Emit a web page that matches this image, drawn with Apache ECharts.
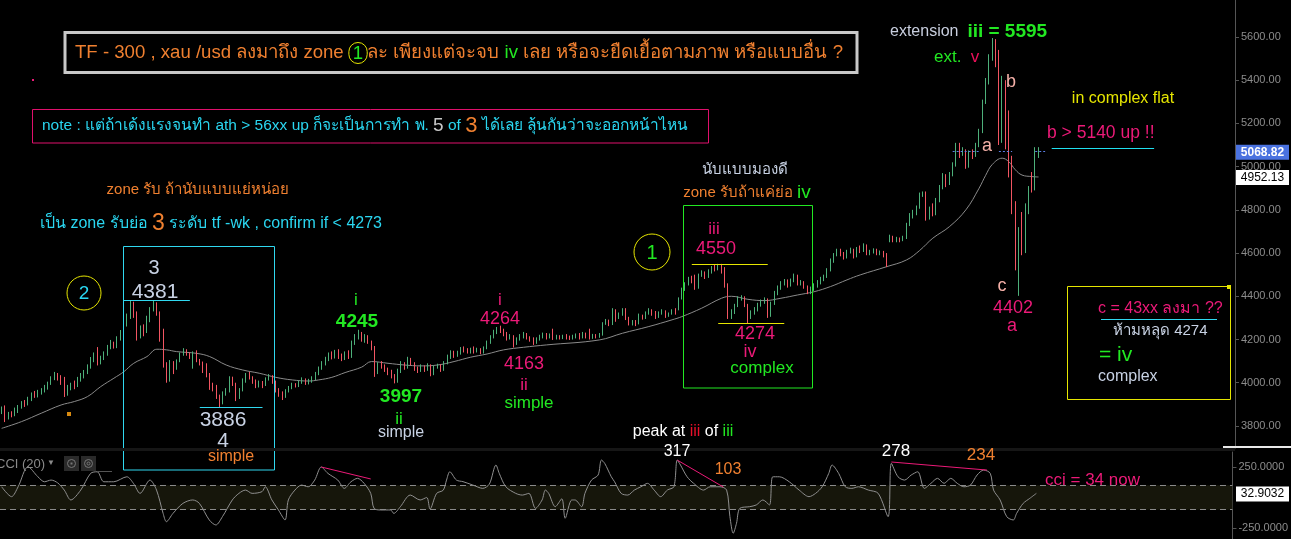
<!DOCTYPE html>
<html><head><meta charset="utf-8">
<script src="https://cdn.jsdelivr.net/npm/echarts@6/dist/echarts.min.js"></script>
<style>html,body{margin:0;padding:0;background:#000;overflow:hidden}#c{width:1291px;height:539px}</style>
</head><body><div id="c"></div>
<script>
// ---------- DATA ----------
// candles: [open, close, low, high] per 300-minute bar
const candles = [
[3870,3880,3855,3890],[3880,3830,3818,3895],[3835,3855,3830,3865],[3855,3850,3840,3868],[3850,3870,3845,3885],
[3870,3890,3860,3897],[3890,3905,3880,3915],[3905,3900,3888,3920],[3900,3925,3895,3935],[3925,3945,3915,3955],
[3945,3940,3930,3962],[3940,3955,3932,3967],[3955,3965,3945,3975],[3965,3975,3955,3990],[3975,3995,3968,4005],
[3995,4020,3990,4030],[4020,4035,4012,4050],[4035,4025,4010,4045],[4025,4000,3990,4035],[4000,3945,3934,4027],
[3945,3975,3940,3990],[3975,3990,3965,4000],[3990,3985,3970,4010],[3985,4015,3980,4027],[4015,4030,4005,4045],
[4030,4045,4020,4059],[4045,4075,4040,4085],[4075,4100,4065,4119],[4100,4125,4095,4140],[4125,4090,4080,4165],
[4090,4115,4085,4125],[4115,4130,4105,4145],[4130,4160,4125,4175],[4160,4180,4155,4198],[4180,4165,4158,4190],
[4165,4200,4160,4215],[4200,4235,4195,4244],[4235,4270,4228,4290],[4270,4300,4260,4320],[4300,4365,4295,4381],
[4365,4320,4300,4375],[4320,4210,4195,4330],[4210,4250,4205,4265],[4250,4235,4215,4270],[4235,4290,4230,4310],
[4290,4340,4280,4350],[4340,4360,4330,4381],[4360,4320,4310,4372],[4320,4240,4190,4330],[4240,4080,4070,4250],
[4080,4010,4000,4095],[4010,4090,4005,4105],[4090,4070,4040,4100],[4070,4100,4060,4108],[4100,4130,4095,4140],
[4130,4148,4125,4160],[4148,4135,4125,4155],[4135,4120,4110,4140],[4120,4135,4065,4145],[4135,4100,4095,4150],
[4100,4090,4080,4110],[4090,4080,4045,4098],[4080,4040,4025,4090],[4040,3985,3967,4045],[3985,3975,3960,4000],
[3975,3940,3925,3990],[3940,3905,3886,3945],[3905,3950,3900,3960],[3950,3965,3940,3975],[3965,4020,3955,4030],
[4020,3995,3985,4028],[3995,3930,3915,4000],[3930,3965,3925,3975],[3965,4010,3960,4020],[4010,4035,4000,4045],
[4035,4025,4015,4050],[4025,4005,3995,4030],[4005,3985,3975,4015],[3985,4000,3978,4010],[4000,3990,3975,4008],
[3990,4015,3985,4025],[4015,4030,4010,4040],[4030,4005,3995,4035],[4005,3965,3955,4010],[3965,3950,3935,3975],
[3950,3935,3920,3960],[3935,3960,3930,3970],[3960,3975,3955,3985],[3975,3990,3970,4000],[3990,3985,3978,3998],
[3985,4000,3980,4010],[4000,4015,3995,4025],[4015,4000,3990,4020],[4000,4010,3992,4018],[4010,4020,4000,4030],
[4020,4040,4012,4050],[4040,4065,4035,4075],[4065,4090,4060,4100],[4090,4110,4080,4120],[4110,4130,4100,4140],
[4130,4118,4108,4145],[4118,4140,4112,4152],[4140,4125,4110,4155],[4125,4110,4100,4135],[4110,4135,4105,4145],
[4135,4120,4110,4150],[4120,4180,4115,4195],[4180,4210,4175,4225],[4210,4225,4200,4245],[4225,4200,4190,4235],
[4200,4215,4185,4225],[4215,4190,4180,4220],[4190,4160,4150,4195],[4160,4045,4027,4170],[4045,4085,4040,4095],
[4085,4075,4065,4100],[4075,4060,4050,4085],[4060,4050,4035,4070],[4050,4030,4020,4060],[4030,4005,3997,4040],
[4005,4050,4000,4065],[4050,4090,4045,4100],[4090,4070,4060,4095],[4070,4110,4065,4120],[4110,4090,4080,4115],
[4090,4065,4055,4095],[4065,4055,4045,4075],[4055,4075,4050,4085],[4075,4060,4050,4080],[4060,4080,4055,4090],
[4080,4040,4030,4085],[4040,4070,4035,4080],[4070,4080,4065,4088],[4080,4060,4050,4085],[4060,4090,4055,4100],
[4090,4120,4085,4130],[4120,4140,4110,4150],[4140,4125,4115,4148],[4125,4140,4120,4148],[4140,4155,4130,4165],
[4155,4150,4140,4168],[4150,4140,4135,4160],[4140,4155,4135,4162],[4155,4145,4135,4168],[4145,4155,4140,4162],
[4155,4140,4132,4160],[4140,4160,4135,4168],[4160,4185,4155,4195],[4185,4210,4180,4220],[4210,4235,4205,4245],
[4235,4250,4225,4258],[4250,4240,4230,4264],[4240,4225,4215,4250],[4225,4205,4195,4235],[4205,4215,4200,4225],
[4215,4180,4163,4220],[4180,4200,4175,4210],[4200,4215,4195,4225],[4215,4225,4205,4235],[4225,4210,4200,4230],
[4210,4200,4190,4215],[4200,4185,4175,4210],[4185,4200,4180,4210],[4200,4215,4195,4222],[4215,4225,4205,4232],
[4225,4210,4200,4230],[4210,4220,4205,4228],[4220,4205,4198,4250],[4205,4215,4200,4222],[4215,4208,4200,4220],
[4208,4215,4202,4222],[4215,4210,4200,4225],[4210,4205,4198,4218],[4205,4215,4200,4222],[4215,4220,4205,4228],
[4220,4210,4200,4230],[4210,4225,4205,4235],[4225,4215,4205,4232],[4215,4210,4200,4250],[4210,4220,4203,4226],
[4220,4215,4205,4225],[4215,4222,4208,4230],[4222,4275,4218,4280],[4275,4285,4268,4295],[4285,4270,4262,4292],
[4272,4335,4267,4345],[4335,4300,4282,4340],[4300,4320,4295,4325],[4320,4335,4310,4345],[4335,4300,4290,4345],
[4300,4275,4265,4305],[4275,4285,4265,4290],[4285,4275,4262,4290],[4275,4310,4270,4320],[4310,4300,4292,4315],
[4300,4320,4295,4330],[4320,4335,4315,4345],[4335,4325,4310,4340],[4325,4305,4295,4332],[4305,4320,4300,4330],
[4320,4330,4315,4340],[4330,4310,4300,4335],[4310,4320,4305,4325],[4320,4335,4315,4340],[4335,4325,4315,4345],
[4340,4390,4335,4395],[4390,4430,4385,4440],[4430,4455,4425,4465],[4455,4480,4450,4490],[4480,4470,4460,4495],
[4470,4440,4430,4500],[4440,4495,4435,4505],[4495,4510,4490,4520],[4510,4490,4480,4515],[4490,4515,4485,4525],
[4515,4530,4505,4540],[4530,4525,4515,4545],[4525,4540,4520,4550],[4540,4520,4505,4550],[4520,4450,4440,4535],
[4450,4300,4295,4460],[4300,4325,4295,4340],[4325,4355,4318,4365],[4355,4390,4350,4400],[4390,4395,4380,4405],
[4395,4360,4350,4400],[4360,4300,4274,4365],[4300,4325,4295,4335],[4325,4340,4315,4350],[4340,4360,4330,4370],
[4360,4375,4352,4385],[4375,4385,4365,4395],[4385,4310,4300,4390],[4310,4365,4305,4375],[4365,4415,4360,4425],
[4415,4440,4405,4450],[4440,4460,4430,4470],[4460,4470,4450,4480],[4470,4450,4440,4478],[4450,4470,4445,4482],
[4470,4495,4465,4505],[4495,4460,4450,4500],[4460,4465,4450,4475],[4465,4445,4435,4470],[4445,4420,4410,4450],
[4420,4435,4410,4445],[4435,4450,4425,4460],[4450,4465,4440,4475],[4465,4480,4455,4490],[4480,4490,4470,4500],
[4490,4520,4485,4530],[4520,4560,4515,4575],[4560,4590,4555,4600],[4590,4610,4585,4620],[4610,4595,4585,4620],
[4595,4580,4570,4605],[4580,4605,4575,4615],[4605,4615,4598,4625],[4615,4585,4575,4620],[4585,4620,4580,4628],
[4620,4610,4600,4635],[4610,4635,4605,4645],[4635,4600,4590,4640],[4600,4605,4590,4615],[4605,4615,4598,4622],
[4615,4600,4590,4620],[4600,4605,4590,4612],[4605,4590,4580,4610],[4590,4545,4535,4600],[4660,4670,4650,4685],
[4670,4660,4650,4680],[4660,4665,4650,4675],[4665,4660,4650,4672],[4660,4670,4655,4680],[4670,4730,4665,4740],
[4730,4770,4725,4785],[4770,4790,4760,4800],[4790,4810,4775,4820],[4810,4870,4805,4880],[4870,4875,4860,4885],
[4875,4760,4750,4885],[4760,4800,4755,4815],[4800,4780,4770,4830],[4780,4840,4775,4855],[4840,4900,4835,4915],
[4900,4950,4895,4970],[4950,4920,4905,4965],[4920,4960,4915,4975],[4960,5005,4955,5020],[5005,5090,5000,5110],
[5090,5060,5040,5110],[5060,5070,5050,5090],[5070,5000,4990,5080],[5000,5060,4995,5075],[5060,5050,5035,5080],
[5050,5095,5045,5110],[5095,5160,5090,5175],[5160,5300,5155,5310],[5300,5390,5290,5410],[5390,5500,5380,5520],
[5500,5560,5490,5595],[5560,5520,5460,5590],[5520,5120,5100,5540],[5120,5380,5110,5420],[5380,5100,5080,5400],
[5100,4960,4950,5260],[4960,4800,4780,5050],[4800,4540,4520,4840],[4540,4690,4402,4720],[4690,4620,4590,4790],
[4620,4800,4600,4830],[4800,4890,4780,4910],[4960,4900,4880,4975],[4900,5060,4890,5090],[5060,5068.82,5040,5090]
];
// moving average: [bar index, value]
const maPoints = [[0,3789],[6,3820],[12,3859],[18,3897],[22,3913],[26,3936],[30,3982],[34,4021],[37,4051],[40,4090],
[44,4121],[47,4155],[50,4152],[53,4144],[59,4136],[63,4121],[68,4082],[73,4059],[78,4044],[83,4025],[88,4013],
[93,4008],[96,4013],[100,4025],[104,4047],[109,4072],[112,4098],[117,4090],[122,4082],[127,4078],[132,4082],
[137,4098],[142,4118],[147,4133],[152,4152],[158,4164],[165,4175],[181,4198],[188,4229],[196,4260],[203,4291],
[206,4306],[212,4345],[218,4391],[221,4400],[226,4386],[231,4380],[236,4391],[241,4406],[246,4421],[251,4445],
[256,4476],[260,4499],[268,4537],[274,4568],[278,4612],[282,4669],[287,4722],[292,4800],[296,4900],[298,4960],
[300,5010],[303,5039],[305,5023],[307,4985],[309,4961],[312,4954],[314,4952.13]];
// CCI(20): [bar index, value]
const cciPoints = [[0,88],[3,7],[5,88],[8,252],[11,170],[13,129],[15,143],[17,120],[19,61],[21,-20],[24,61],[27,198],
[29,211],[31,129],[34,129],[38,170],[40,116],[42,34],[45,143],[47,61],[49,-130],[50,-198],[52,-130],[55,-48],[58,-20],
[60,-48],[63,-184],[65,-225],[67,-157],[70,-20],[72,34],[74,61],[76,34],[79,48],[80,88],[82,-20],[84,-102],[86,-184],
[87,-20],[89,61],[91,102],[93,88],[95,143],[97,250],[99,198],[102,143],[104,75],[106,129],[108,157],[110,116],
[112,34],[113,-89],[115,-102],[118,-102],[119,-130],[121,-75],[124,20],[127,-20],[129,0],[130,-95],[132,34],[134,60],
[135,143],[136,211],[138,143],[140,130],[143,102],[146,75],[148,110],[150,266],[151,198],[153,88],[156,34],[158,20],
[160,34],[162,-89],[164,-20],[165,61],[166,34],[168,-75],[170,-10],[171,-170],[173,-20],[174,-20],[176,-75],[177,34],
[179,143],[181,184],[182,307],[183,280],[185,170],[186,129],[188,34],[190,20],[192,61],[194,88],[196,116],[198,61],
[200,7],[202,61],[204,88],[205,307],[206,266],[208,170],[210,116],[213,61],[215,88],[218,88],[220,61],[221,-157],
[222,-293],[223,-211],[224,-89],[227,-75],[229,-61],[231,-20],[233,-61],[234,170],[236,170],[239,129],[242,61],
[245,7],[247,34],[249,88],[251,198],[252,266],[254,198],[256,88],[258,75],[260,88],[263,61],[266,34],[269,-157],
[270,280],[272,170],[274,143],[276,184],[278,211],[280,75],[282,116],[284,157],[286,116],[288,157],[290,116],
[292,88],[294,102],[296,184],[298,225],[300,198],[301,61],[303,-20],[305,-157],[307,-184],[308,-130],[310,-48],
[312,-7],[314,34]];
const priceTicks = [3800,4000,4200,4400,4600,4800,5000,5200,5400,5600];
const cciTicks = [250,-250];
const cciBand = [100,-100];
const totalSlots = 374;
const lastPrice = 5068.82, lastMA = 4952.13, lastCCI = 32.9032;
// level lines [fromIndex, toIndex, price]
const levels = {l4381:[37,57,4381], l3886:[60,79,3886], l4550:[209,232,4550], l4274:[217,237,4274], l5140:[318,349,5086]};
const dotted = [[288,296],[302,306],[313,316],[371,374]];
// CCI divergence lines [[i1,v1],[i2,v2]]
const cciDiv = [[[97,250],[112,152]],[[205,307],[219,86]],[[270,291],[299,225]]];
const categories = Array.from({length: totalSlots}, (_, i) => String(i));

// ---------- CHART ----------
const FONT = '"Liberation Sans", Tahoma, "DejaVu Sans", sans-serif';
const GREEN='#4db07a', RED='#f25562';
const OR='#f08030', GR='#22e822', CY='#2ad6f0', PK='#ec1a78', SAL='#f5b0a8', LG='#c8d2e4', YE='#e6e600';
const chart = echarts.init(document.getElementById('c'), null, {renderer:'canvas'});

function lvl(a, color, type){ return [{coord:[a[0],a[2]], lineStyle:{color, width:1, type:type||'solid'}}, {coord:[a[1],a[2]]}]; }

const option = {
  backgroundColor:'#000', animation:false,
  grid:[{left:0,right:56,top:0,height:448},{left:0,right:56,top:452,bottom:0}],
  xAxis:[
    {type:'category',data:categories,gridIndex:0,boundaryGap:true,show:false},
    {type:'category',data:categories,gridIndex:1,boundaryGap:true,show:false}
  ],
  yAxis:[
    {type:'value',gridIndex:0,position:'right',min:3698,max:5771,scale:true,
     axisLine:{show:true,lineStyle:{color:'#555'}},
     axisTick:{show:true,length:4,customValues:priceTicks,lineStyle:{color:'#555'}},
     axisLabel:{customValues:priceTicks,formatter:v=>v.toFixed(2),color:'#8c8c8c',fontSize:11,margin:6,fontFamily:'Liberation Sans, Arial, sans-serif'},
     splitLine:{show:false}},
    {type:'value',gridIndex:1,position:'right',min:-340,max:373,
     axisLine:{show:true,lineStyle:{color:'#555'}},
     axisTick:{show:true,length:4,customValues:cciTicks,lineStyle:{color:'#555'}},
     axisLabel:{customValues:cciTicks,formatter:v=>v.toFixed(4),color:'#8c8c8c',fontSize:11,margin:6,fontFamily:'Liberation Sans, Arial, sans-serif'},
     splitLine:{show:false}}
  ],
  series:[
    {type:'candlestick',xAxisIndex:0,yAxisIndex:0,data:candles,barWidth:1,
     itemStyle:{color:GREEN,color0:RED,borderColor:GREEN,borderColor0:RED,borderWidth:1},
     markLine:{symbol:'none',silent:true,label:{show:false},animation:false,
       data:[lvl(levels.l4381,'#30d8f0'),lvl(levels.l3886,'#30d8f0'),lvl(levels.l4550,YE),lvl(levels.l4274,YE),lvl(levels.l5140,'#20e0f0')]
         .concat(dotted.map(d=>[{coord:[d[0],lastPrice],lineStyle:{color:'#5b7fe6',width:1,type:[2,2]}},{coord:[d[1],lastPrice]}]))}
    },
    {type:'line',xAxisIndex:0,yAxisIndex:0,data:maPoints,showSymbol:false,smooth:0.4,
     lineStyle:{color:'#8a8a8a',width:1},z:1},
    {type:'line',xAxisIndex:1,yAxisIndex:1,data:cciPoints,showSymbol:false,smooth:0.3,
     lineStyle:{color:'#8f8f8f',width:1},
     markArea:{silent:true,itemStyle:{color:'#16160b'},data:[[{yAxis:cciBand[0]},{yAxis:cciBand[1]}]]},
     markLine:{symbol:'none',silent:true,label:{show:false},
       data:[{yAxis:cciBand[0],lineStyle:{color:'#8a8a8a',type:[6,4],width:1}},{yAxis:cciBand[1],lineStyle:{color:'#8a8a8a',type:[6,4],width:1}}]
         .concat(cciDiv.map(d=>[{coord:d[0],lineStyle:{color:PK,width:1,type:'solid'}},{coord:d[1]}]))}
    }
  ]
};
chart.setOption(option);

function T(x,y,text,fill,size,align,extra){
  const st = Object.assign({text, fill, font:(extra&&extra.bold?'bold ':'')+size+'px '+((extra&&extra.family)||FONT),
    textAlign:align||'center', align:align||'center', textVerticalAlign:'middle', verticalAlign:'middle'}, (extra&&extra.style)||{});
  return {type:'text', x, y, z:100, style:st};
}
function rich(x,y,text,richDef,align){
  return {type:'text',x,y,z:100,style:{text,rich:richDef,textAlign:align||'left',align:align||'left',textVerticalAlign:'middle',verticalAlign:'middle',font:'14px '+FONT}};
}
function rs(fill,size,bold,extra){ return Object.assign({fill,fontSize:size,fontFamily:FONT,fontWeight:bold?'bold':'normal'},extra||{}); }
function rect(x,y,w,h,stroke,lw){ return {type:'rect',z:90,shape:{x,y,width:w,height:h},style:{fill:'none',stroke,lineWidth:lw||1}}; }
function line(x1,y1,x2,y2,stroke,lw){ return {type:'line',z:90,shape:{x1,y1,x2,y2},style:{stroke,lineWidth:lw||1}}; }
function circ(cx,cy,r,stroke){ return {type:'circle',z:90,shape:{cx,cy,r},style:{fill:'none',stroke,lineWidth:1}}; }
function box(x,y,w,h,fill){ return {type:'rect',z:90,shape:{x,y,width:w,height:h},style:{fill}}; }

const yP = v => chart.convertToPixel({yAxisIndex:0}, v);
const yC = v => chart.convertToPixel({yAxisIndex:1}, v);
const g = [
  rect(65,32.5,792,40,'#c8c8c8',3),
  rich(75,53,'{o|TF - 300 , xau /usd ลงมาถึง zone }{c|1}{o|ละ เพียงแต่จะจบ }{g|iv}{o| เลย หรือจะยืดเยื้อตามภาพ หรือแบบอื่น ?}',
    {o:rs(OR,18.6),g:rs(GR,18.6),c:rs(GR,18.6,false,{borderColor:YE,borderWidth:1,borderRadius:11,padding:[2,4,0,4]})}),
  box(32,79,2,2,PK),
  rect(32.5,109.5,676,33.5,'#e0106c',1),
  rich(42,126,'{c|note : แต่ถ้าเด้งแรงจนทำ ath > 56xx up ก็จะเป็นการทำ พ. }{w|5}{c| of }{o|3}{c| ได้เลย ลุ้นกันว่าจะออกหน้าไหน}',
    {c:rs(CY,15.5),w:rs('#c8c8c8',19),o:rs(OR,22)}),
  T(198,190,'zone รับ ถ้านับแบบแย่หน่อย',OR,15),
  rich(40,224,'{c|เป็น zone รับย่อ }{o|3}{c| ระดับ tf -wk , confirm if < 4273}',{c:rs(CY,16),o:rs(OR,23)}),
  rect(123.5,246.5,151,223.5,'#30d8f0',1),
  T(154,268,'3',LG,20), T(155,292,'4381',LG,21),
  circ(84,293,17,YE), T(84,294,'2',CY,19),
  T(223,420,'3886',LG,21), T(223,441,'4',LG,21), T(231,457,'simple',OR,16),
  box(67,412,4,4,'#d88a10'),
  T(356,300,'i',GR,17), T(357,322,'4245',GR,19,null,{bold:true}),
  T(401,397,'3997',GR,19,null,{bold:true}), T(399,419,'ii',GR,17), T(401,433,'simple',LG,16),
  T(500,300,'i',PK,17), T(500,319,'4264',PK,18),
  T(524,364,'4163',PK,18), T(524,385,'ii',PK,17), T(529,403,'simple',GR,17),
  rich(683,432,'{w|peak at }{r|iii}{w| of }{g|iii}',{w:rs('#ffffff',16),r:rs('#e8102a',16),g:rs(GR,16)},'center'),
  T(677,452,'317','#ffffff',16), T(728,470,'103',OR,16),
  circ(652,252,18,YE), T(652,253,'1',GR,20),
  T(745,170,'นับแบบมองดี',LG,15),
  rich(747,193,'{o|zone รับถ้าแค่ย่อ }{g|iv}',{o:rs(OR,15),g:rs(GR,19)},'center'),
  rect(683.5,205.5,129,182.5,GR,1),
  T(714,229,'iii',PK,17), T(716,249,'4550',PK,18),
  T(755,334,'4274',PK,18), T(750,352,'iv',PK,18), T(762,368,'complex',GR,17),
  rich(890,32,'{w|extension  }{g|iii = 5595}',{w:rs('#c8cede',16),g:rs(GR,19,true)}),
  rich(934,57,'{g|ext.  }{p|v}',{g:rs(GR,17),p:rs('#ec105a',17)}),
  T(1011,82,'b',SAL,18), T(987,146,'a',SAL,18), T(1002,286,'c',SAL,18),
  T(1123,99,'in complex flat',YE,16),
  T(1047,133,'b > 5140 up !!',PK,17.5,'left'),
  T(1013,308,'4402',PK,18), T(1012,326,'a',PK,18),
  rect(1067.5,286.5,163,113,YE,1), box(1227,285,4,4,YE),
  T(1098,309,'c = 43xx ลงมา ??',PK,16,'left'),
  line(1101,319.5,1217,319.5,'#30d8f0',1),
  T(1113,331,'ห้ามหลุด 4274',LG,15,'left'),
  T(1099,355,'= iv',GR,21,'left'),
  T(1098,377,'complex',LG,16,'left'),
  T(896,451,'278','#ffffff',17), T(981,455,'234',OR,17),
  T(1045,480,'cci = 34 now',PK,17,'left'),
  // pane separator & cci header
  box(0,448,1235,3,'#161616'), box(1223,446,68,2,'#e8e8e8'),
  T(-4,464,'CCI (20)','#8a8a8a',13,'left'),
  T(51,463,'▼','#8a8a8a',8),
  box(64,456,15,15,'#2a2a2a'), circ(71.5,463.5,4,'#777'), box(70.5,462.5,2,2,'#777'),
  box(81,456,15,15,'#2a2a2a'), circ(88.5,463.5,4,'#777'), circ(88.5,463.5,1.5,'#777'),
  line(98,471.5,112,471.5,'#555',1)
];
// value badges on the axis
function badge(y,text,bg,fg,bold){
  return [box(1236,y-7,53,15,bg), T(1262.5,y+0.5,text,fg,12,'center',{bold}) ];
}
const yp = yP(lastPrice), ym = yP(lastMA), yc = yC(lastCCI);
g.push(...badge(yp,lastPrice.toFixed(2),'#4a72e0','#ffffff',true));
g.push(...badge(ym,lastMA.toFixed(2),'#ffffff','#000000',false));
g.push(...badge(yc,lastCCI.toFixed(4),'#ffffff','#000000',false));
chart.setOption({graphic:{elements:g}});
</script></body></html>
